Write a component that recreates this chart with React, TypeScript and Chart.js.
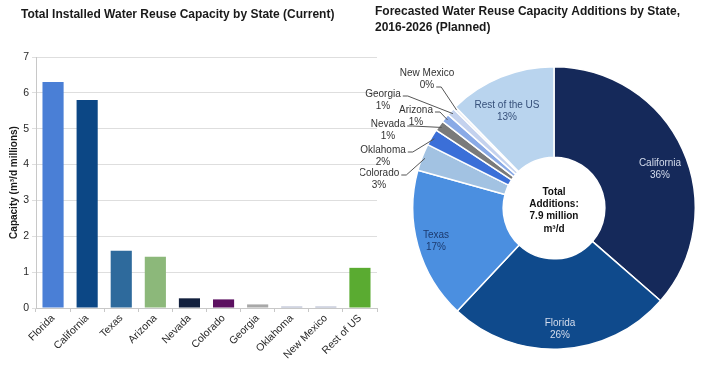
import React, { useEffect, useRef } from 'react';
import { Chart, registerables } from 'chart.js';

Chart.register(...registerables);

const FONT = '"Liberation Sans", Arial, Helvetica, sans-serif';

// ---- Bar chart data ----
const barCategories = ['Florida', 'California', 'Texas', 'Arizona', 'Nevada', 'Colorado', 'Georgia', 'Oklahoma', 'New Mexico', 'Rest of US'];
const barValues = [6.3, 5.8, 1.6, 1.43, 0.27, 0.24, 0.1, 0.04, 0.04, 1.12];
const barColors = ['#4a7fd6', '#0c4785', '#2e6a9c', '#8cb87a', '#12203d', '#5c1060', '#a8a8a8', '#a3aac2', '#a3aac2', '#5aab31'];
const yTickMin = 0;
const yTickMax = 7;
const yTickStep = 1;

// ---- Doughnut data ----
const pieLabels = ['California', 'Florida', 'Texas', 'Colorado', 'Oklahoma', 'Nevada', 'Arizona', 'Georgia', 'New Mexico', 'Rest of the US'];
const pieValues = [36.4, 25.6, 17.3, 3.1, 1.9, 1.2, 1.0, 0.9, 0.3, 12.3];
const piePercentLabels = ['36%', '26%', '17%', '3%', '2%', '1%', '1%', '1%', '0%', '13%'];
const pieColors = ['#15295a', '#0f4a8c', '#4b8fe0', '#a2c2e2', '#3b6fd8', '#7a7a7a', '#8aaae6', '#c4d2ee', '#e4e8f0', '#b9d4ee'];

// ---- Texts ----
const barTitle = 'Total Installed Water Reuse Capacity by State (Current)';
const yAxisTitle = 'Capacity (m³/d millions)';
const pieTitleLines = ['Forecasted Water Reuse Capacity Additions by State,', '2016-2026 (Planned)'];
const centerLines = ['Total', 'Additions:', '7.9 million', 'm³/d'];

// ---- Label layout (offsets from the doughnut centre, px) ----
const insideLabelLayout: Record<string, { dx: number; dy: number; color: string }> = {
  'California': { dx: 106, dy: -45, color: '#d4dcec' },
  'Florida': { dx: 6, dy: 115, color: '#d4dcec' },
  'Texas': { dx: -118, dy: 27, color: '#1c3a6e' },
  'Rest of the US': { dx: -47, dy: -103, color: '#36507a' },
};
const outsideLabelLayout: Record<string, { dx: number; dy: number; leaderRow: number }> = {
  'New Mexico': { dx: -127, dy: -135, leaderRow: 1 },
  'Georgia': { dx: -171, dy: -114, leaderRow: 0 },
  'Arizona': { dx: -138, dy: -98, leaderRow: 0 },
  'Nevada': { dx: -166, dy: -84, leaderRow: 0 },
  'Oklahoma': { dx: -171, dy: -58, leaderRow: 0 },
  'Colorado': { dx: -175, dy: -35, leaderRow: 0 },
};

const barTitlePlugin = {
  id: 'barTitle',
  afterDraw(chart: any) {
    const ctx = chart.ctx;
    ctx.save();
    ctx.font = `bold 12px ${FONT}`;
    ctx.fillStyle = '#1a1a1a';
    ctx.textBaseline = 'middle';
    ctx.textAlign = 'left';
    ctx.fillText(barTitle, 21, 15);
    ctx.restore();
  },
};

const pieLabelPlugin = {
  id: 'pieLabels',
  afterDatasetsDraw(chart: any) {
    const ctx = chart.ctx;
    const meta = chart.getDatasetMeta(0);
    const first = meta.data[0];
    if (!first) return;
    const cx = first.x;
    const cy = first.y;
    ctx.save();

    // title
    ctx.font = `bold 12px ${FONT}`;
    ctx.fillStyle = '#1a1a1a';
    ctx.textAlign = 'left';
    ctx.textBaseline = 'middle';
    pieTitleLines.forEach((t, i) => ctx.fillText(t, 15, 12 + i * 16));

    // centre text
    ctx.font = `bold 10px ${FONT}`;
    ctx.fillStyle = '#111';
    ctx.textAlign = 'center';
    centerLines.forEach((t, i) => ctx.fillText(t, cx, cy - 16 + i * 12.3));

    // inside labels
    ctx.font = `10px ${FONT}`;
    Object.keys(insideLabelLayout).forEach((name) => {
      const idx = pieLabels.indexOf(name);
      const l = insideLabelLayout[name];
      ctx.fillStyle = l.color;
      ctx.fillText(name, cx + l.dx, cy + l.dy);
      ctx.fillText(piePercentLabels[idx], cx + l.dx, cy + l.dy + 12);
    });

    // outside labels with leader lines
    Object.keys(outsideLabelLayout).forEach((name) => {
      const idx = pieLabels.indexOf(name);
      const l = outsideLabelLayout[name];
      const arc = meta.data[idx];
      const p = arc.getProps(['x', 'y', 'startAngle', 'endAngle', 'outerRadius'], true);
      const mid = (p.startAngle + p.endAngle) / 2;
      const ex = p.x + Math.cos(mid) * (p.outerRadius - 3);
      const ey = p.y + Math.sin(mid) * (p.outerRadius - 3);
      const tx = cx + l.dx;
      const ty = cy + l.dy;
      ctx.fillStyle = '#333';
      ctx.textAlign = 'center';
      ctx.fillText(name, tx, ty);
      ctx.fillText(piePercentLabels[idx], tx, ty + 12);
      const rowText = l.leaderRow === 0 ? name : piePercentLabels[idx];
      const w = ctx.measureText(rowText).width;
      const sx = tx + w / 2 + 2;
      const sy = ty + l.leaderRow * 12 + 2;
      ctx.beginPath();
      ctx.strokeStyle = '#555';
      ctx.lineWidth = 1;
      ctx.moveTo(sx, sy);
      ctx.lineTo(sx + 5, sy);
      ctx.lineTo(ex, ey);
      ctx.stroke();
    });
    ctx.restore();
  },
};

function BarChart() {
  const ref = useRef<HTMLCanvasElement>(null);
  useEffect(() => {
    if (!ref.current) return;
    const chart = new Chart(ref.current, {
      type: 'bar',
      data: {
        labels: barCategories,
        datasets: [
          {
            data: barValues,
            backgroundColor: barColors,
            borderWidth: 0,
            barPercentage: 0.62,
            categoryPercentage: 1,
          },
        ],
      },
      options: {
        responsive: false,
        animation: false,
        layout: { padding: { top: 57, left: 0, right: 23, bottom: 0 } },
        plugins: {
          legend: { display: false },
          tooltip: { enabled: false },
          title: { display: false },
        },
        scales: {
          x: {
            grid: { display: true, drawOnChartArea: false, drawTicks: true, tickLength: 4, color: '#c8c8c8', offset: true },
            border: { color: '#c8c8c8' },
            ticks: { font: { family: FONT, size: 10.5 }, color: '#2a2a2a', maxRotation: 45, minRotation: 45, padding: 0, autoSkip: false },
            afterFit(scale: any) {
              scale.height = 75;
            },
          },
          y: {
            min: yTickMin,
            max: yTickMax,
            ticks: { stepSize: yTickStep, font: { family: FONT, size: 10.5 }, color: '#2a2a2a', padding: 3 },
            grid: { color: '#dedede', tickLength: 4, drawTicks: true },
            border: { color: '#c8c8c8' },
            title: {
              display: true,
              text: yAxisTitle,
              font: { family: FONT, size: 10, weight: 'bold' },
              color: '#1a1a1a',
              padding: { top: 8, bottom: 0 },
            },
            afterFit(scale: any) {
              scale.width = 36;
            },
          },
        },
      } as any,
      plugins: [barTitlePlugin],
    });
    return () => chart.destroy();
  }, []);
  return (
    <canvas
      ref={ref}
      width={400}
      height={383}
      style={{ position: 'absolute', left: 0, top: 0, width: 400, height: 383 }}
    />
  );
}

function PieChart() {
  const ref = useRef<HTMLCanvasElement>(null);
  useEffect(() => {
    if (!ref.current) return;
    const chart = new Chart(ref.current, {
      type: 'doughnut',
      data: {
        labels: pieLabels,
        datasets: [
          {
            data: pieValues,
            backgroundColor: pieColors,
            borderColor: '#ffffff',
            borderWidth: 1.5,
            hoverOffset: 0,
          },
        ],
      },
      options: {
        responsive: false,
        animation: false,
        cutout: '36%',
        layout: { padding: { left: 52, right: 24, top: 66, bottom: 33 } },
        plugins: {
          legend: { display: false },
          tooltip: { enabled: false },
        },
      } as any,
      plugins: [pieLabelPlugin],
    });
    return () => chart.destroy();
  }, []);
  return (
    <canvas
      ref={ref}
      width={360}
      height={383}
      style={{ position: 'absolute', left: 360, top: 0, width: 360, height: 383 }}
    />
  );
}

export default function App() {
  return (
    <div style={{ position: 'fixed', left: 0, top: 0, width: 720, height: 383, background: '#ffffff', overflow: 'hidden' }}>
      <BarChart />
      <PieChart />
    </div>
  );
}
